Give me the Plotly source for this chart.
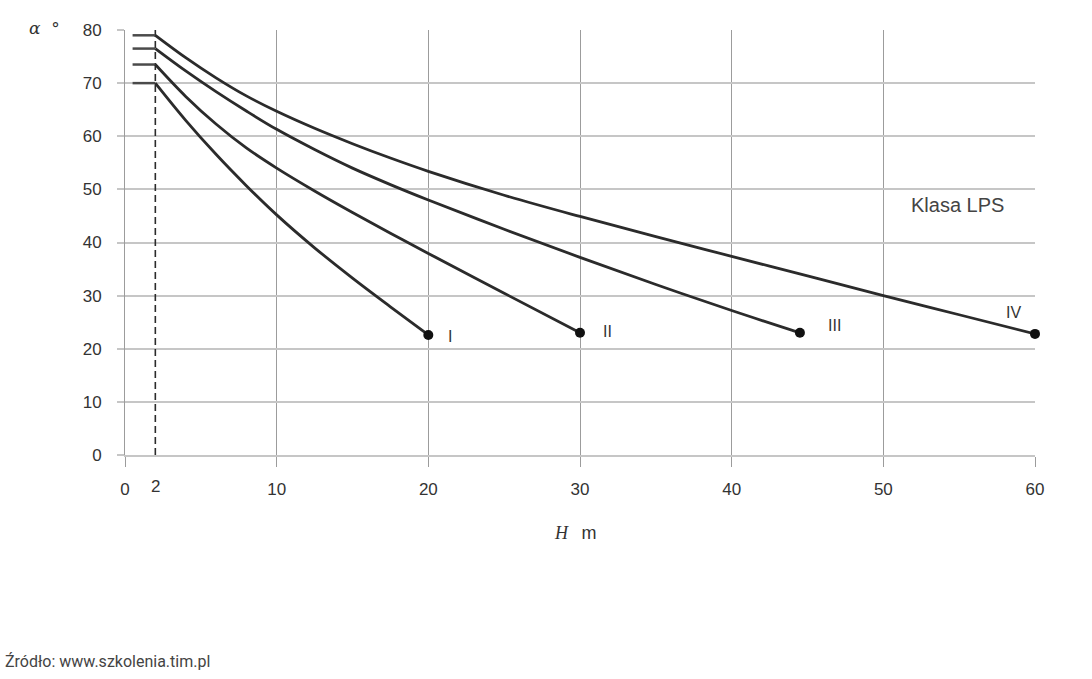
import plotly.graph_objects as go

# ---- data ----
classes = ["I", "II", "III", "IV"]

h_I = [2, 4, 6, 8, 10, 12.5, 15, 17.5, 20]
a_I = [70, 63.0, 56.6, 50.7, 45.2, 39.0, 33.3, 27.9, 22.6]

h_II = [2, 4, 6, 8, 10, 12.5, 15, 17.5, 20, 25, 30]
a_II = [73.5, 67.5, 62.3, 57.8, 54.0, 49.7, 45.65, 41.75, 37.95, 30.45, 23.0]

h_III = [2, 4, 6, 8, 10, 12.5, 15, 17.5, 20, 25, 30, 35, 40, 44.5]
a_III = [76.5, 72.3, 68.4, 64.75, 61.3, 57.5, 54.0, 50.9, 48.0, 42.5, 37.2, 32.1, 27.2, 23.0]

h_IV = [2, 4, 6, 8, 10, 12.5, 15, 17.5, 20, 25, 30, 35, 40, 45, 50, 55, 60]
a_IV = [79.0, 74.8, 71.0, 67.6, 64.7, 61.5, 58.6, 55.9, 53.4, 48.9, 44.9, 41.1, 37.4, 33.7, 30.0, 26.4, 22.8]

stub_start = 0.5          # horizontal lead-in segments start here
h_limit = 2               # dashed vertical line at H = 2 m

x_tickvals = [0, 10, 20, 30, 40, 50, 60]
y_tickvals = [0, 10, 20, 30, 40, 50, 60, 70, 80]

# class label positions (data units)
label_pos = {"I": (21.4, 22.4), "II": (31.8, 23.2), "III": (46.8, 24.3), "IV": (58.6, 26.9)}

curves = [(h_I, a_I), (h_II, a_II), (h_III, a_III), (h_IV, a_IV)]

LINE = "#2b2b2b"
STUB = "#4a4a4a"
HGRID = "#c6c6c6"
VGRID = "#9c9c9c"
TXT = "#333333"
FONT = "Liberation Sans, Arial, sans-serif"

fig = go.Figure()

# dashed vertical line at H = 2
fig.add_trace(go.Scatter(x=[h_limit, h_limit], y=[0, 80], mode="lines",
                         line=dict(color=LINE, width=1.6, dash="7px,4px"),
                         hoverinfo="skip", showlegend=False))

for name, (hs, als) in zip(classes, curves):
    fig.add_trace(go.Scatter(x=[stub_start, hs[0]], y=[als[0], als[0]], mode="lines",
                             line=dict(color=STUB, width=2.5),
                             hoverinfo="skip", showlegend=False))
    fig.add_trace(go.Scatter(x=hs, y=als, mode="lines", name=name,
                             line=dict(color=LINE, width=2.8, shape="spline", smoothing=1.0),
                             showlegend=False))
    fig.add_trace(go.Scatter(x=[hs[-1]], y=[als[-1]], mode="markers",
                             marker=dict(color="#111111", size=10),
                             cliponaxis=False, showlegend=False))
    lx, ly = label_pos[name]
    fig.add_annotation(x=lx, y=ly, text=name, showarrow=False,
                       font=dict(family=FONT, size=16, color=TXT))

fig.add_annotation(x=54.9, y=47.1, text="Klasa LPS", showarrow=False,
                   font=dict(family=FONT, size=20, color="#444444"))

# "2" tick label (no tick mark at 2 in the reference)
fig.add_annotation(x=2, xref="x", y=0, yref="paper", yanchor="top", yshift=-20,
                   text="2", showarrow=False,
                   font=dict(family=FONT, size=17, color=TXT))

# axis titles
fig.add_annotation(xref="paper", yref="paper", x=-0.108, y=1.005, xanchor="left", yanchor="middle",
                   text="<i>α</i>  °", showarrow=False,
                   font=dict(family="DejaVu Serif, Liberation Serif, serif", size=17, color=TXT))
fig.add_annotation(xref="paper", yref="paper", x=0.495, y=-0.184, xanchor="center", yanchor="middle",
                   text="<i>H</i>   <span style='font-family:Liberation Sans'>m</span>", showarrow=False,
                   font=dict(family="Liberation Serif, serif", size=18, color=TXT))

# source
fig.add_annotation(xref="paper", yref="paper", x=-0.134, y=-0.487, xanchor="left", yanchor="middle",
                   text="Źródło: www.szkolenia.tim.pl", showarrow=False,
                   font=dict(family="Roboto, sans-serif", size=16, color="#444444"))

fig.update_xaxes(range=[0, 60], tickvals=x_tickvals, ticktext=[str(v) for v in x_tickvals],
                 showgrid=True, gridcolor=VGRID, gridwidth=1,
                 ticks="outside", ticklen=10, tickcolor=VGRID, tickwidth=1,
                 showline=True, linecolor=HGRID, linewidth=1.5,
                 zeroline=False, ticklabelstandoff=8,
                 tickfont=dict(family=FONT, size=17, color=TXT))
fig.update_yaxes(range=[0, 80], tickvals=y_tickvals,
                 showgrid=True, gridcolor=HGRID, gridwidth=1.5,
                 ticks="outside", ticklen=7, tickcolor=HGRID, tickwidth=1.5,
                 showline=True, linecolor=VGRID, linewidth=1,
                 zeroline=False, ticklabelstandoff=12,
                 tickfont=dict(family=FONT, size=17, color=TXT))

fig.update_layout(width=1092, height=679, plot_bgcolor="white", paper_bgcolor="white",
                  margin=dict(l=125, r=57, t=30, b=224), showlegend=False)

fig.write_html("out.html", config={"displayModeBar": False},
               post_script="document.body.style.margin='0';")
